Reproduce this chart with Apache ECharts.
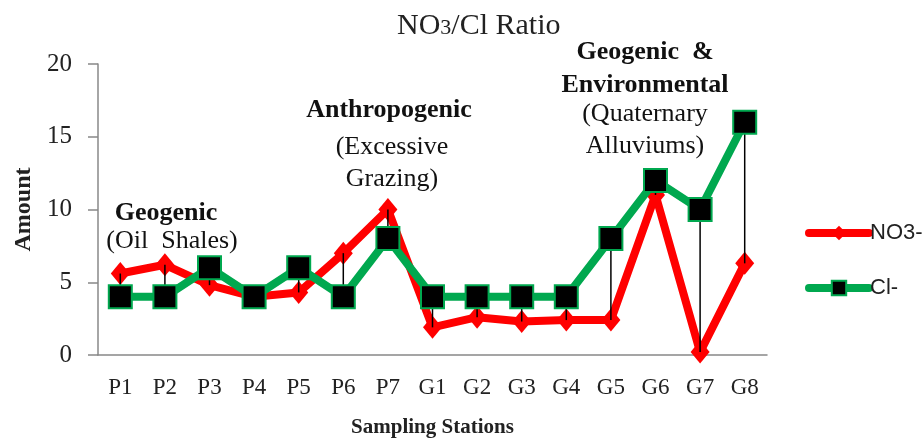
<!DOCTYPE html>
<html>
<head>
<meta charset="utf-8">
<script src="https://cdn.jsdelivr.net/npm/echarts@6/dist/echarts.min.js"></script>
<style>
  html, body { margin: 0; padding: 0; background: #fff; }
  #chart { width: 924px; height: 441px; }
</style>
</head>
<body>
<div id="chart"></div>
<script>
const stations = ['P1', 'P2', 'P3', 'P4', 'P5', 'P6', 'P7', 'G1', 'G2', 'G3', 'G4', 'G5', 'G6', 'G7', 'G8']
const no3Values = [5.6, 6.2, 4.8, 4.0, 4.3, 7.0, 10.0, 1.9, 2.6, 2.3, 2.4, 2.4, 11.0, 0.2, 6.3]
const clValues = [4, 4, 6, 4, 6, 4, 8, 4, 4, 4, 4, 8, 12, 10, 16]
const yTicks = [0, 20, 5]  // min, max, interval

const serif = 'Liberation Serif'
const chart = echarts.init(document.getElementById('chart'))

// high-low lines between the two series
const dropData = stations.map((s, i) => [i, no3Values[i], clValues[i]])

const note = (x, y, text, bold) => ({
  type: 'text',
  x: x,
  y: y,
  style: {
    text: text,
    align: 'center',
    verticalAlign: 'middle',
    font: (bold ? 'bold ' : '') + '26px "' + serif + '"',
    fill: '#111'
  }
})

const option = {
  animation: false,
  title: {
    text: 'NO{s|3}/Cl Ratio',
    left: 392,
    top: 6,
    textStyle: {
      fontFamily: serif,
      fontSize: 30,
      fontWeight: 'normal',
      color: '#222',
      rich: {
        s: { fontFamily: serif, fontSize: 22, color: '#222', padding: [5, 0, 0, 0] }
      }
    }
  },
  legend: {
    orient: 'vertical',
    left: 800,
    top: 217,
    itemWidth: 60,
    itemHeight: 18,
    itemGap: 33,
    lineStyle: { width: 8, cap: 'round' },
    textStyle: { fontFamily: 'Liberation Sans', fontSize: 22, color: '#222', padding: [0, 0, 0, -4] },
    data: ['NO3-', 'Cl-']
  },
  grid: { left: 98, right: 157, top: 64, bottom: 86, outerBoundsMode: 'none' },
  xAxis: {
    type: 'category',
    data: stations,
    name: 'Sampling Stations',
    nameLocation: 'middle',
    nameGap: 62,
    nameTextStyle: { fontFamily: serif, fontSize: 21, fontWeight: 'bold', color: '#222' },
    axisLine: { lineStyle: { color: '#888', width: 1.5 } },
    axisTick: { show: false },
    axisLabel: { fontFamily: serif, fontSize: 23, color: '#222', margin: 21 }
  },
  yAxis: {
    type: 'value',
    min: yTicks[0],
    max: yTicks[1],
    interval: yTicks[2],
    name: 'Amount',
    nameLocation: 'middle',
    nameGap: 62,
    nameRotate: 90,
    nameTextStyle: { fontFamily: serif, fontSize: 24, fontWeight: 'bold', color: '#222' },
    axisLine: { show: true, lineStyle: { color: '#888', width: 1.5 } },
    axisTick: { show: true, length: 10, lineStyle: { color: '#888', width: 1.5 } },
    axisLabel: { fontFamily: serif, fontSize: 25, color: '#222', margin: 26 },
    splitLine: { show: false }
  },
  series: [
    {
      name: 'NO3-',
      type: 'line',
      data: no3Values,
      z: 2,
      symbol: 'diamond',
      symbolSize: [19, 23],
      lineStyle: { color: '#ff0000', width: 8 },
      itemStyle: { color: '#ff0000' }
    },
    {
      type: 'custom',
      data: dropData,
      z: 3,
      silent: true,
      renderItem: (params, api) => {
        const a = api.coord([api.value(0), api.value(1)])
        const b = api.coord([api.value(0), api.value(2)])
        return {
          type: 'line',
          shape: { x1: a[0], y1: a[1], x2: b[0], y2: b[1] },
          style: { stroke: '#000', lineWidth: 1.5 }
        }
      }
    },
    {
      name: 'Cl-',
      type: 'line',
      data: clValues,
      z: 4,
      symbol: 'rect',
      symbolSize: 23,
      lineStyle: { color: '#00a84f', width: 8 },
      itemStyle: { color: '#000', borderColor: '#00a84f', borderWidth: 2 }
    }
  ],
  graphic: [
    note(166, 213, 'Geogenic', true),
    note(172, 241, '(Oil  Shales)', false),
    note(389, 110, 'Anthropogenic', true),
    note(392, 147, '(Excessive', false),
    note(392, 179, 'Grazing)', false),
    note(645, 52, 'Geogenic  &', true),
    note(645, 85, 'Environmental', true),
    note(645, 114, '(Quaternary', false),
    note(645, 146, 'Alluviums)', false)
  ]
}

chart.setOption(option)
window.addEventListener('resize', () => chart.resize())
</script>
</body>
</html>
